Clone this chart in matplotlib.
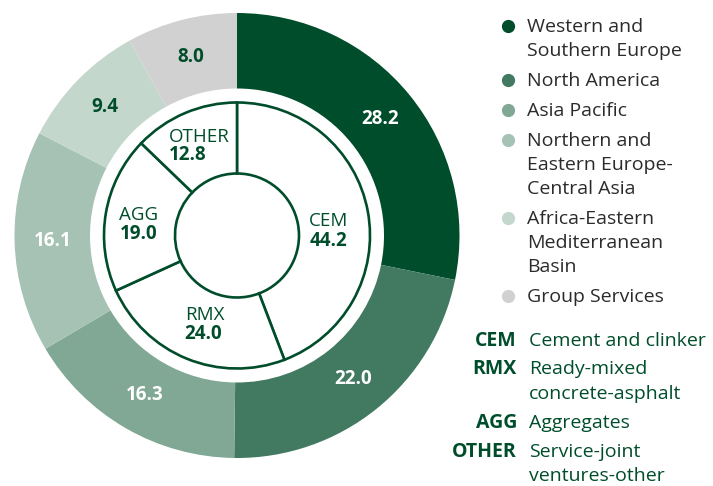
import numpy as np
import matplotlib.pyplot as plt
from matplotlib.offsetbox import TextArea, VPacker, AnnotationBbox

# Regionen (aussen)
regionen = ["Western and\nSouthern Europe", "North America", "Asia Pacific",
            "Northern and\nEastern Europe-\nCentral Asia",
            "Africa-Eastern\nMediterranean\nBasin", "Group Services"]
regionen_werte = [28.2, 22.0, 16.3, 16.1, 9.4, 8.0]
regionen_farben = ["#004d2b", "#417a60", "#80a894", "#a6c2b5", "#c3d7cd", "#d1d1d1"]
regionen_textfarbe = ["white", "white", "white", "white", "#004d2b", "#004d2b"]

# Segmente (innen)
segmente = ["CEM", "RMX", "AGG", "OTHER"]
segmente_werte = [44.2, 24.0, 19.0, 12.8]
segmente_namen = ["Cement and clinker", "Ready-mixed\nconcrete-asphalt",
                  "Aggregates", "Service-joint\nventures-other"]

DUNKEL = "#004d2b"
GRAU = "#2b2b2b"
FONT = "Open Sans"
H = 486

fig = plt.figure(figsize=(7.13, 4.86), dpi=100)
ax = fig.add_axes([0, 0, 1, 1])

mitte = (237, H - 235.5)

aussen, _, aussen_txt = ax.pie(
    regionen_werte, colors=regionen_farben, radius=222.5, center=mitte,
    startangle=90, counterclock=False, autopct=lambda p: f"{p:.1f}",
    pctdistance=0.83, wedgeprops=dict(width=222.5 - 147, linewidth=0))
for t, c in zip(aussen_txt, regionen_textfarbe):
    t.set_color(c)
    t.set_fontsize(13.5)
    t.set_fontweight("bold")
    t.set_fontfamily(FONT)

ax.pie(segmente_werte, colors=["white"] * 4, radius=133, center=mitte,
       startangle=90, counterclock=False,
       wedgeprops=dict(width=133 - 62, edgecolor=DUNKEL, linewidth=1.9))

# Beschriftung der inneren Segmente (Blockmitte in Bildpixeln)
innen_pos = [(329, 231.5), (204.5, 325), (139, 225), (199.5, 146.5)]
for name, wert, (x, y) in zip(segmente, segmente_werte, innen_pos):
    box = VPacker(children=[
        TextArea(name, textprops=dict(color=DUNKEL, fontsize=13.5, fontfamily=FONT)),
        TextArea(f"{wert:.1f}", textprops=dict(color=DUNKEL, fontsize=13.5,
                                                fontweight="bold", fontfamily=FONT))],
        align="left", pad=0, sep=0)
    ax.add_artist(AnnotationBbox(box, (x, H - y), frameon=False,
                                 box_alignment=(0.5, 0.5)))

# Legende Regionen (Grundlinien in Bildpixeln)
zeilen_abstand = 24
y = 32.3
for name, farbe in zip(regionen, regionen_farben):
    ax.plot([508], [H - (y - 6.5)], "o", color=farbe, markersize=8.5)
    for i, zeile in enumerate(name.split("\n")):
        ax.text(527, H - (y + i * zeilen_abstand), zeile, color=GRAU,
                fontsize=14, fontfamily=FONT, va="baseline", ha="left")
    y += name.count("\n") * zeilen_abstand + 30

# Legende Segmente
y = 345.5
for kurz, name in zip(segmente, segmente_namen):
    ax.text(517, H - y, kurz, color=DUNKEL, fontsize=14, fontweight="bold",
            fontfamily=FONT, ha="right", va="baseline")
    for i, zeile in enumerate(name.split("\n")):
        ax.text(529, H - (y + i * zeilen_abstand), zeile, color=DUNKEL,
                fontsize=14, fontfamily=FONT, va="baseline", ha="left")
    y += name.count("\n") * zeilen_abstand + 29

ax.set_xlim(0, 713)
ax.set_ylim(0, H)
ax.set_aspect("equal")
ax.axis("off")

plt.savefig("out.png", dpi=100)
